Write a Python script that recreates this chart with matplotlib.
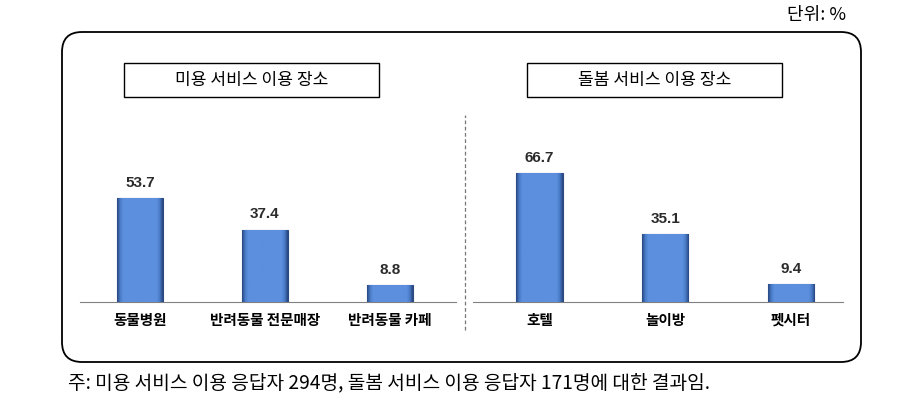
import matplotlib
matplotlib.use('Agg')
import matplotlib.pyplot as plt
from matplotlib.patches import FancyBboxPatch, Rectangle
from matplotlib.lines import Line2D
from matplotlib.colors import LinearSegmentedColormap
import numpy as np

plt.rcParams['font.family'] = ['Noto Sans CJK KR', 'DejaVu Sans']

# data
groom_places = ['동물병원', '반려동물 전문매장', '반려동물 카페']
groom_pct = [53.7, 37.4, 8.8]
care_places = ['호텔', '놀이방', '펫시터']
care_pct = [66.7, 35.1, 9.4]
titles = ['미용 서비스 이용 장소', '돌봄 서비스 이용 장소']
unit_text = '단위: %'
note_text = '주: 미용 서비스 이용 응답자 294명, 돌봄 서비스 이용 응답자 171명에 대한 결과임.'

W, H = 899, 419
fig = plt.figure(figsize=(W / 100, H / 100), dpi=100)
inch = fig.dpi_scale_trans


def rect(x0, y0, x1, y1):
    # pixel box (origin top-left) -> figure fraction
    return [x0 / W, 1 - y1 / H, (x1 - x0) / W, (y1 - y0) / H]


# outer rounded frame
frame = FancyBboxPatch((0.62, (H - 362) / 100), 7.99, 3.30,
                       boxstyle='round,pad=0,rounding_size=0.2',
                       transform=inch, fill=False, lw=1.3, ec='black')
fig.patches.append(frame)

# title boxes
for x0, t in zip([124, 527], titles):
    fig.patches.append(Rectangle((x0 / 100, (H - 97) / 100), 2.55, 0.34,
                                 transform=inch, fill=False, lw=1.0, ec='black'))
    fig.text((x0 + 127.5) / W, 1 - 80 / H, t, ha='center', va='center', fontsize=12.3)

# dashed divider
fig.add_artist(Line2D([4.65, 4.65], [(H - 330) / 100, (H - 115) / 100],
                      transform=inch, color='#777777', lw=0.9, ls=(0, (3, 2))))

fig.text(817 / W, 1 - 15 / H, unit_text, ha='center', va='center', fontsize=13)
fig.text(68 / W, 1 - 383 / H, note_text, ha='left', va='center', fontsize=13.8)

cmap = LinearSegmentedColormap.from_list('bev', ['#2A4A86', '#4A7CC8', '#5C8FDD'])
t = np.linspace(0, 1, 60)
d = np.minimum(t, 1 - t)
prof = np.clip(d / 0.13, 0, 1)
grad = np.tile(prof, (40, 1))

scale = 1.93  # px per percent
top = 302 - 160
panels = [
    (rect(80, top, 456, 302), groom_places, groom_pct, (-0.48, 2.528), 0.368),
    (rect(473, top, 843, 302), care_places, care_pct, (-0.529, 2.414), 0.366),
]
for box, labels, vals, xl, bw in panels:
    ax = fig.add_axes(box)
    x = np.arange(len(vals))
    bars = ax.bar(x, vals, width=bw, color='#5B8EDB', edgecolor='#2B4A80',
                  lw=0.8, zorder=2)
    for b in bars:
        im = ax.imshow(grad, extent=[b.get_x(), b.get_x() + b.get_width(), 0, b.get_height()],
                       aspect='auto', cmap=cmap, vmin=0, vmax=1, zorder=3)
        im.set_clip_path(b)
    for xi, v in zip(x, vals):
        ax.annotate(f'{v:.1f}', (xi, v), xytext=(0, 6), textcoords='offset points',
                    ha='center', va='bottom', fontsize=11, fontweight='bold',
                    family='Liberation Sans', color='#2b2b2b')
    ax.set_xlim(*xl)
    ax.set_ylim(0, 160 / scale)
    ax.set_xticks(x, labels, fontsize=10.5, fontweight='bold')
    ax.tick_params(axis='x', length=0, pad=7)
    ax.set_yticks([])
    for s in ['top', 'left', 'right']:
        ax.spines[s].set_visible(False)
    ax.spines['bottom'].set_color('#808080')
    ax.patch.set_alpha(0)

fig.savefig('out.png', dpi=100)
